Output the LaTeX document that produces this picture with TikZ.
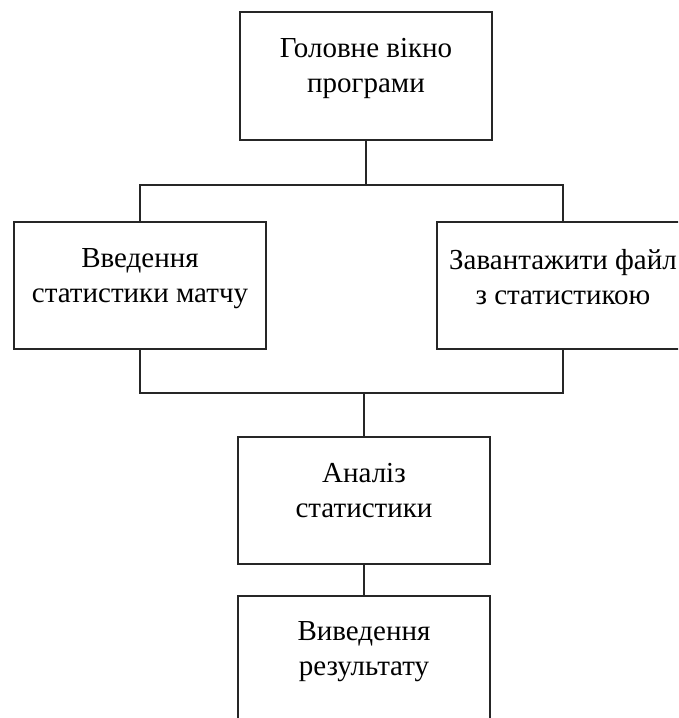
\documentclass[tikz,border=0pt]{standalone}
\usepackage{fontspec}
\setmainfont{Liberation Serif}
\begin{document}
\begin{tikzpicture}[x=1pt,y=1pt,
  blockbox/.style={draw=black!85, line width=1.3pt, minimum width=252pt, minimum height=128pt, inner sep=0pt},
  blocktext/.style={anchor=north, inner sep=0pt, align=center, font=\fontsize{29}{35}\selectfont},
  link/.style={draw=black!85, line width=1.3pt}]
\useasboundingbox (0,0) rectangle (678,718);
\clip (0,0) rectangle (678,718);

% blocks
\node[blockbox] (main) at (366,642) {};
\node[blockbox, minimum height=127pt] (input) at (140,432.5) {};
\node[blockbox, minimum height=127pt] (load) at (563,432.5) {};
\node[blockbox, minimum height=127pt] (analysis) at (364,217.5) {};
\node[blockbox] (output) at (364,58) {};

% captions
\node[blocktext] (main-t) at ([yshift=-21.5pt]main.north) {\strut Головне вікно\\\strut програми};
\node[blocktext] (input-t) at ([yshift=-21.5pt]input.north) {\strut Введення\\\strut статистики матчу};
\node[blocktext] (load-t) at ([yshift=-23pt]load.north) {\strut Завантажити файл\\\strut з статистикою};
\node[blocktext] (analysis-t) at ([yshift=-21pt]analysis.north) {\strut Аналіз\\\strut статистики};
\node[blocktext] (output-t) at ([yshift=-20pt]output.north) {\strut Виведення\\\strut результату};

% connectors
\coordinate (split) at (366,533);
\coordinate (join) at (364,325);
\draw[link] (main.south) -- (split);
\draw[link] (input.north) |- (split) -| (load.north);
\draw[link] (input.south) |- (join) -| (load.south);
\draw[link] (join) -- (analysis.north);
\draw[link] (analysis.south) -- (output.north);
\end{tikzpicture}
\end{document}
